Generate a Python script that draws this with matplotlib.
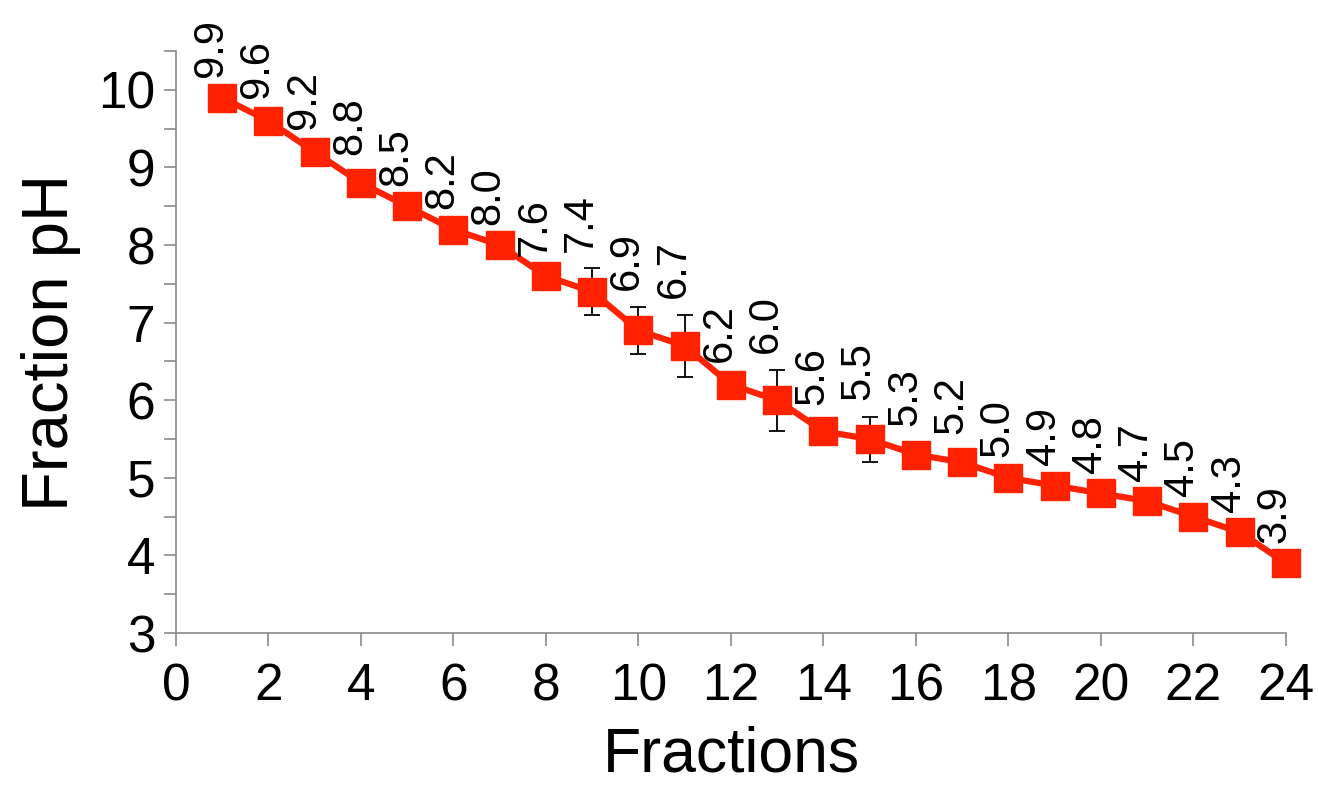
import matplotlib.pyplot as plt
import numpy as np

fractions = np.arange(1, 25)
ph = [9.9, 9.6, 9.2, 8.8, 8.5, 8.2, 8.0, 7.6, 7.4, 6.9, 6.7, 6.2,
      6.0, 5.6, 5.5, 5.3, 5.2, 5.0, 4.9, 4.8, 4.7, 4.5, 4.3, 3.9]
ph_err = [0.05, 0.08, 0.08, 0.15, 0.05, 0.05, 0.05, 0.05, 0.3, 0.3, 0.4, 0.08,
          0.39, 0.12, 0.29, 0.15, 0.15, 0.05, 0.05, 0.05, 0.05, 0.05, 0.05, 0.05]
ph_labels = ["9.9", "9.6", "9.2", "8.8", "8.5", "8.2", "8.0", "7.6", "7.4", "6.9", "6.7", "6.2",
             "6.0", "5.6", "5.5", "5.3", "5.2", "5.0", "4.9", "4.8", "4.7", "4.5", "4.3", "3.9"]

plt.rcParams['font.family'] = ['Liberation Sans', 'DejaVu Sans']

fig = plt.figure(figsize=(13.18, 8.06), dpi=100)
ax = fig.add_axes([0.1335, 0.2146, 0.8422, 0.722])

red = '#ff2200'
ax.errorbar(fractions, ph, yerr=ph_err, fmt='none', ecolor='black',
            elinewidth=1.3, capsize=6, capthick=1.3, zorder=2)
ax.plot(fractions, ph, color=red, linewidth=4.5, marker='s',
        markersize=20, markerfacecolor=red, markeredgecolor=red,
        zorder=3, clip_on=False)

for x, y, e, lab in zip(fractions, ph, ph_err, ph_labels):
    ax.annotate(lab, (x, y + e), xytext=(-8, 12), textcoords='offset points',
                rotation=90, ha='center', va='bottom', fontsize=30,
                annotation_clip=False)

ax.set_xlim(0, 24)
ax.set_ylim(3, 10.5)
ax.set_xticks(np.arange(0, 25, 2))
ax.set_yticks(np.arange(3, 11, 1))
ax.set_yticks(np.arange(3.5, 10.6, 1), minor=True)

for s in ['top', 'right']:
    ax.spines[s].set_visible(False)
for s in ['left', 'bottom']:
    ax.spines[s].set_color('#8a8a8a')
    ax.spines[s].set_linewidth(1.2)

ax.tick_params(axis='both', which='both', direction='out', length=9,
               width=1.2, color='#8a8a8a', labelsize=37)
ax.tick_params(axis='x', pad=12)
ax.tick_params(axis='y', pad=6)

ax.set_xlabel("Fractions", fontsize=45, labelpad=10)
ax.set_ylabel("Fraction pH", fontsize=47, labelpad=12)

fig.savefig("out.png", dpi=100)
